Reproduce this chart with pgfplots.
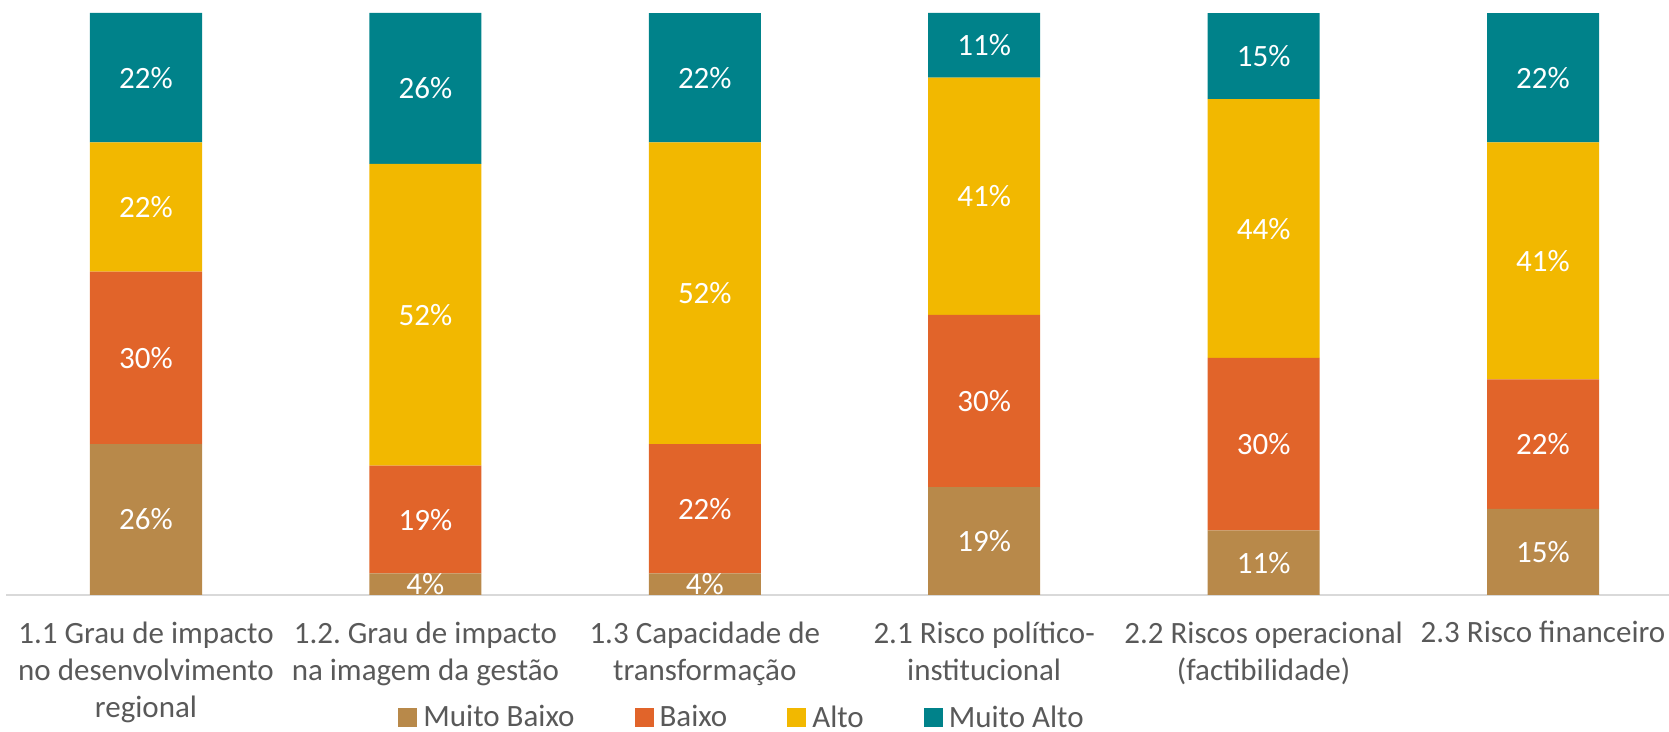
\documentclass[border=0pt]{standalone}
\usepackage{fontspec}
\setmainfont{Carlito}
\usepackage{pgfplots}
\pgfplotsset{compat=1.18}
\definecolor{cMB}{HTML}{B8894A}
\definecolor{cB}{HTML}{E1642A}
\definecolor{cA}{HTML}{F2B800}
\definecolor{cMA}{HTML}{00828A}
\definecolor{txtGray}{HTML}{595959}
\definecolor{lineGray}{HTML}{D9D9D9}
\pgfplotsset{
  sq/.style={legend image code/.code={\path[##1, draw=none] (0pt,-4.75pt) rectangle (9.5pt,4.75pt);}}
}
\begin{document}
\frenchspacing
\begin{tikzpicture}
\begin{axis}[
  at={(0,0)}, anchor=south west, scale only axis,
  width=831.35pt, height=291pt,
  ybar stacked, bar width=56pt,
  ymin=0, ymax=100, xmin=-0.5, xmax=5.451,
  enlargelimits=false,
  axis x line*=bottom, axis y line=none,
  x axis line style={draw=lineGray, line width=1pt, -},
  xtick={0,1,2,3,4,5},
  xticklabels={{1.1 Grau de impacto\\no desenvolvimento\\regional},
    {1.2.\ Grau de impacto\\na imagem da gestão},
    {1.3 Capacidade de\\transformação},
    {2.1 Risco político-\\institucional},
    {2.2 Riscos operacional\\(factibilidade)},
    {2.3 Risco financeiro}},
  xticklabel style={align=center, anchor=north, yshift=-9.75pt,
    font=\fontsize{15.5}{18.5}\selectfont, text=txtGray},
  xtick style={draw=none},
  major tick length=0pt,
  /pgf/number format/assume math mode=true,
  nodes near coords={\pgfmathprintnumber[fixed,precision=0]{\pgfplotspointmeta}\%},
  nodes near coords align=center,
  every node near coord/.append style={text=white, font=\fontsize{15.5}{18.5}\selectfont},
  legend style={at={(0.4437,-0.211)}, anchor=center, draw=none, fill=none,
    legend columns=4, font=\fontsize{15.5}{18.5}\selectfont, text=txtGray,
    nodes={inner xsep=3pt, inner ysep=0pt},
    /tikz/every even column/.append style={column sep=27pt}},
]
\addplot[fill=cMB, draw=none, sq] coordinates {(0,25.93) (1,3.70) (2,3.70) (3,18.52) (4,11.11) (5,14.81)};
\addplot[fill=cB, draw=none, sq] coordinates {(0,29.63) (1,18.52) (2,22.22) (3,29.63) (4,29.63) (5,22.22)};
\addplot[fill=cA, draw=none, sq] coordinates {(0,22.22) (1,51.85) (2,51.85) (3,40.74) (4,44.44) (5,40.74)};
\addplot[fill=cMA, draw=none, sq] coordinates {(0,22.22) (1,25.93) (2,22.22) (3,11.11) (4,14.81) (5,22.22)};
\legend{Muito Baixo, Baixo, Alto, Muito Alto}
\end{axis}
\pgfresetboundingbox
\useasboundingbox (-3.15pt,-68.5pt) rectangle (831.35pt,297.5pt);
\end{tikzpicture}
\end{document}
